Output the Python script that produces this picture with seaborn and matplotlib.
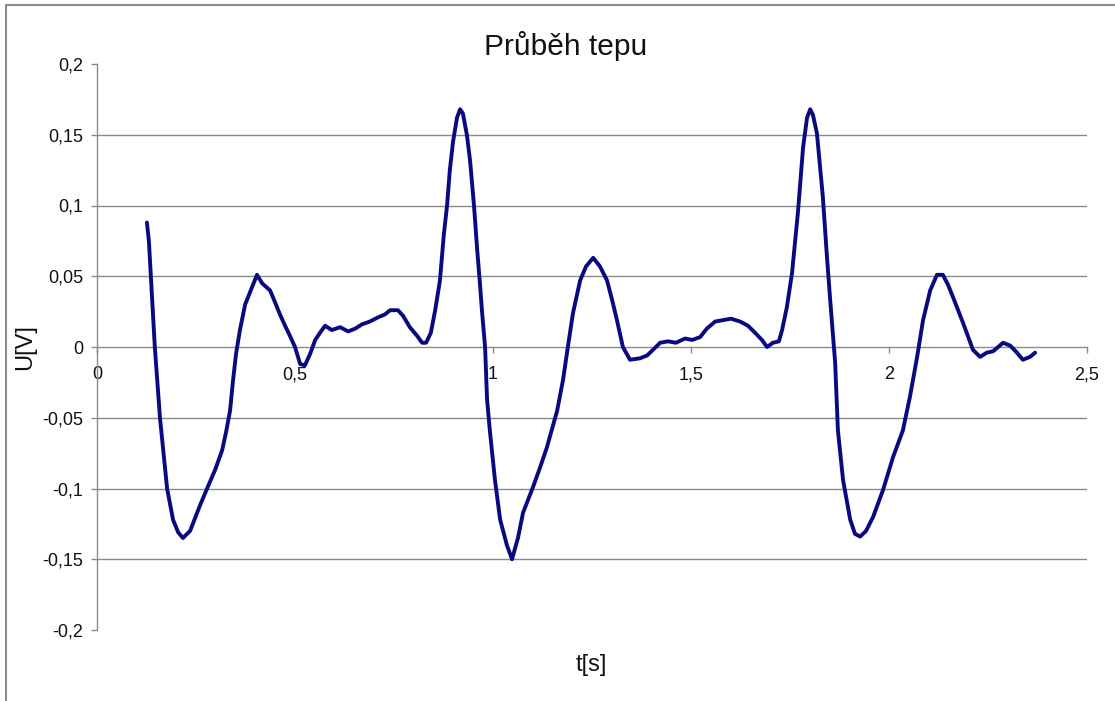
import matplotlib
matplotlib.use("Agg")
import matplotlib.pyplot as plt
from matplotlib.lines import Line2D
from matplotlib.ticker import FixedLocator, FuncFormatter
import seaborn as sns
import pandas as pd

title = "Průběh tepu"
x_label = "t[s]"
y_label = "U[V]"

t = [0.126, 0.131, 0.136, 0.146, 0.159, 0.177, 0.192, 0.205, 0.217, 0.235,
     0.260, 0.278, 0.298, 0.316, 0.326, 0.336, 0.343, 0.351, 0.361, 0.374,
     0.391, 0.404, 0.417, 0.437, 0.449, 0.462, 0.475, 0.487, 0.500, 0.513,
     0.525, 0.538, 0.551, 0.563, 0.576, 0.593, 0.614, 0.634, 0.652, 0.669,
     0.689, 0.710, 0.727, 0.740, 0.760, 0.773, 0.790, 0.808, 0.821, 0.831,
     0.843, 0.854, 0.866, 0.876, 0.884, 0.891, 0.899, 0.909, 0.917, 0.924,
     0.934, 0.942, 0.952, 0.960, 0.967, 0.972, 0.980, 0.985, 0.992, 1.005,
     1.018, 1.035, 1.048, 1.063, 1.076, 1.101, 1.119, 1.136, 1.162, 1.177,
     1.189, 1.202, 1.220, 1.235, 1.253, 1.270, 1.288, 1.301, 1.313, 1.328,
     1.346, 1.371, 1.389, 1.404, 1.422, 1.442, 1.462, 1.485, 1.503, 1.523,
     1.540, 1.561, 1.581, 1.601, 1.624, 1.644, 1.662, 1.679, 1.692, 1.707,
     1.722, 1.730, 1.742, 1.755, 1.770, 1.783, 1.793, 1.801, 1.808, 1.818,
     1.833, 1.843, 1.851, 1.864, 1.871, 1.884, 1.902, 1.914, 1.927, 1.942,
     1.960, 1.985, 2.010, 2.035, 2.053, 2.071, 2.086, 2.104, 2.121, 2.136,
     2.149, 2.162, 2.187, 2.212, 2.230, 2.247, 2.263, 2.288, 2.306, 2.323,
     2.338, 2.356, 2.369]

u = [0.088, 0.075, 0.050, 0.000, -0.050, -0.100, -0.122, -0.131, -0.135, -0.130,
     -0.112, -0.100, -0.087, -0.073, -0.060, -0.045, -0.025, -0.005, 0.012, 0.030,
     0.042, 0.051, 0.045, 0.040, 0.032, 0.023, 0.015, 0.008, 0.000, -0.012,
     -0.013, -0.005, 0.005, 0.010, 0.015, 0.012, 0.014, 0.011, 0.013, 0.016,
     0.018, 0.021, 0.023, 0.026, 0.026, 0.022, 0.014, 0.008, 0.003, 0.003,
     0.010, 0.026, 0.047, 0.080, 0.100, 0.125, 0.145, 0.162, 0.168, 0.165,
     0.150, 0.132, 0.100, 0.069, 0.045, 0.026, 0.000, -0.037, -0.059, -0.094,
     -0.122, -0.140, -0.150, -0.135, -0.117, -0.099, -0.085, -0.071, -0.045, -0.023,
     0.000, 0.024, 0.047, 0.057, 0.063, 0.057, 0.047, 0.033, 0.019, 0.000,
     -0.009, -0.008, -0.006, -0.002, 0.003, 0.004, 0.003, 0.006, 0.005, 0.007,
     0.013, 0.018, 0.019, 0.020, 0.018, 0.015, 0.010, 0.005, 0.000, 0.003,
     0.004, 0.012, 0.028, 0.052, 0.095, 0.141, 0.162, 0.168, 0.164, 0.151,
     0.106, 0.065, 0.035, -0.011, -0.059, -0.094, -0.122, -0.132, -0.134, -0.130,
     -0.120, -0.101, -0.078, -0.059, -0.035, -0.007, 0.019, 0.040, 0.051, 0.051,
     0.044, 0.035, 0.017, -0.002, -0.007, -0.004, -0.003, 0.003, 0.001, -0.004,
     -0.009, -0.007, -0.004]

x_ticks = [0, 0.5, 1, 1.5, 2, 2.5]
y_ticks = [-0.2, -0.15, -0.1, -0.05, 0, 0.05, 0.1, 0.15, 0.2]

df = pd.DataFrame({"t": t, "U": u})

sns.set_theme(style="white")
plt.rcParams["font.family"] = ["Liberation Sans", "DejaVu Sans"]

W, H = 1115, 701
fig = plt.figure(figsize=(W / 100, H / 100), dpi=100)
ax = fig.add_axes([97 / W, 1 - 630 / H, (1087 - 97) / W, (630 - 64) / H])

grid_c = "#8a8a8a"
for yv in y_ticks:
    if yv not in (0, -0.2, 0.2):
        ax.axhline(yv, color=grid_c, lw=1.0, zorder=1)

sns.lineplot(data=df, x="t", y="U", ax=ax, sort=False, estimator=None,
             color="#0a0a80", lw=2.8, zorder=3)

ax.set_xlim(0, 2.5)
ax.set_ylim(-0.2, 0.2)

for s in ("top", "right"):
    ax.spines[s].set_visible(False)
ax.spines["bottom"].set_position(("data", 0))
ax.spines["bottom"].set_color(grid_c)
ax.spines["bottom"].set_linewidth(1.0)
ax.spines["left"].set_color(grid_c)
ax.spines["left"].set_linewidth(1.0)
ax.spines["bottom"].set_zorder(1)

def fmt(v, pos):
    s = ("%g" % round(v, 3)).replace(".", ",")
    return "0" if s in ("-0",) else s

ax.xaxis.set_major_locator(FixedLocator(x_ticks))
ax.yaxis.set_major_locator(FixedLocator(y_ticks))
ax.xaxis.set_major_formatter(FuncFormatter(fmt))
ax.yaxis.set_major_formatter(FuncFormatter(fmt))
ax.tick_params(axis="both", which="major", direction="out", length=4,
               width=1, color=grid_c, labelsize=13, labelcolor="#111111")
ax.tick_params(axis="x", pad=10)
ax.tick_params(axis="y", pad=6)
ax.tick_params(bottom=True, left=True)

ax.set_xlabel(x_label, fontsize=17, color="#111111")
ax.set_ylabel(y_label, fontsize=17, color="#111111")
ax.xaxis.set_label_coords(0.499, -0.043)
ax.yaxis.set_label_coords(-0.061, 0.5)

fig.text(566 / W, 1 - 46 / H, title, ha="center", va="center",
         fontsize=21.5, color="#111111")

# chart area border (top and left edges visible)
fig.add_artist(Line2D([6 / W, 1.0], [1 - 5 / H, 1 - 5 / H],
                      transform=fig.transFigure, color="#8c8c8c", lw=1.5))
fig.add_artist(Line2D([6 / W, 6 / W], [0, 1 - 5 / H],
                      transform=fig.transFigure, color="#8c8c8c", lw=1.5))

fig.savefig("out.png", dpi=100)
